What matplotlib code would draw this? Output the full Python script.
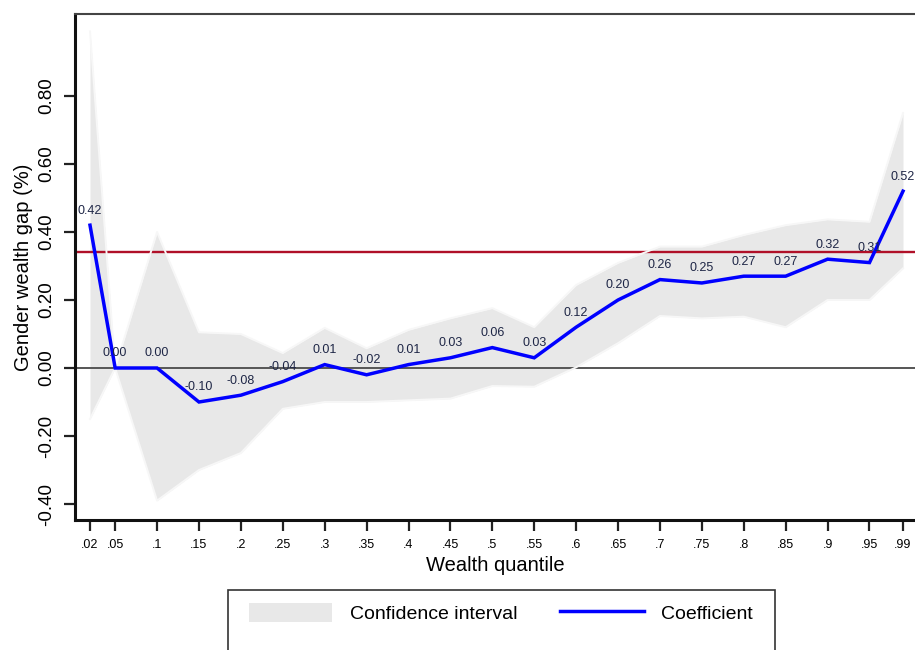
import matplotlib
matplotlib.use("Agg")
import matplotlib.pyplot as plt
from matplotlib.patches import Rectangle, Patch
from matplotlib.lines import Line2D

plt.rcParams['font.family'] = ['Liberation Sans', 'DejaVu Sans']
plt.rcParams['axes.unicode_minus'] = False

# Quantile regression results by wealth quantile
quantiles = [0.02, 0.05, 0.10, 0.15, 0.20, 0.25, 0.30, 0.35, 0.40, 0.45, 0.50,
             0.55, 0.60, 0.65, 0.70, 0.75, 0.80, 0.85, 0.90, 0.95, 0.99]
quantile_labels = ['.02', '.05', '.1', '.15', '.2', '.25', '.3', '.35', '.4', '.45', '.5',
                   '.55', '.6', '.65', '.7', '.75', '.8', '.85', '.9', '.95', '.99']
coefficient = [0.42, 0.00, 0.00, -0.10, -0.08, -0.04, 0.01, -0.02, 0.01, 0.03, 0.06,
               0.03, 0.12, 0.20, 0.26, 0.25, 0.27, 0.27, 0.32, 0.31, 0.52]
ci_lower = [-0.15, 0.00, -0.39, -0.30, -0.25, -0.12, -0.10, -0.10, -0.095, -0.09, -0.053,
            -0.055, 0.002, 0.073, 0.153, 0.146, 0.151, 0.12, 0.20, 0.20, 0.293]
ci_upper = [0.99, 0.00, 0.40, 0.105, 0.10, 0.044, 0.118, 0.058, 0.112, 0.146, 0.176,
            0.12, 0.244, 0.309, 0.357, 0.357, 0.391, 0.42, 0.437, 0.43, 0.75]
mean_gap = 0.34
y_ticks = [-0.40, -0.20, 0.00, 0.20, 0.40, 0.60, 0.80]

W, H = 915, 650
fig = plt.figure(figsize=(W / 100, H / 100), dpi=100)
ax = fig.add_axes([75 / W, (H - 520) / H, 840 / W, (520 - 14) / H])

band_fill = '#e8e8e8'
ax.fill_between(quantiles, ci_lower, ci_upper, color=band_fill, linewidth=0, zorder=1)
ax.axhline(0, color='#555555', linewidth=1.4, zorder=2)
ax.axhline(mean_gap, color='#b01028', linewidth=1.7, zorder=2)
# light outline of the confidence band
ax.plot(quantiles, ci_lower, color='#f7f7f7', linewidth=1.4, zorder=3)
ax.plot(quantiles, ci_upper, color='#f7f7f7', linewidth=1.4, zorder=3)
ax.plot(quantiles, coefficient, color='#0000ff', linewidth=2.5, zorder=4,
        solid_joinstyle='miter')

for q, c in zip(quantiles, coefficient):
    ax.annotate(f'{c:.2f}', (q, c), xytext=(0, 10.5), textcoords='offset points',
                ha='center', va='center', fontsize=9, color='#1e2646', zorder=5)

ax.set_xlim(0.0021, 1.0043)
ax.set_ylim(-0.447, 1.041)

ax.set_xticks(quantiles)
ax.set_xticklabels(quantile_labels, fontsize=9)
ax.set_yticks(y_ticks)
ax.set_yticklabels([f'{v:.2f}' for v in y_ticks], fontsize=13.5, rotation=90,
                   va='center')
ax.tick_params(axis='both', direction='out', length=8, width=1.6, color='#222222')
ax.tick_params(axis='y', pad=6)
ax.tick_params(axis='x', pad=6)

ax.spines['right'].set_visible(False)
ax.spines['left'].set_linewidth(2.2)
ax.spines['bottom'].set_linewidth(2.2)
ax.spines['left'].set_color('#111111')
ax.spines['bottom'].set_color('#111111')
ax.spines['top'].set_linewidth(1.5)
ax.spines['top'].set_color('#444444')

ax.set_xlabel('Wealth quantile', fontsize=14.5, labelpad=3)
ax.set_ylabel('Gender wealth gap (%)', fontsize=14.5, labelpad=4)

# legend frame runs past the bottom edge of the figure
fig.patches.append(Rectangle((228 / W, -0.2), (775 - 228) / W, (H - 590) / H + 0.2,
                             transform=fig.transFigure, facecolor='white',
                             edgecolor='#333333', linewidth=1.2))
handles = [Patch(facecolor=band_fill, edgecolor='none'),
           Line2D([], [], color='#0000ff', linewidth=2.5)]
fig.legend(handles, ['Confidence interval', 'Coefficient'], ncol=2, frameon=False,
           loc='center', bbox_to_anchor=(501 / W, (H - 613) / H), fontsize=14,
           handlelength=4.3, handleheight=1.1, handletextpad=0.9, columnspacing=2.2)

fig.savefig('out.png', dpi=100)
